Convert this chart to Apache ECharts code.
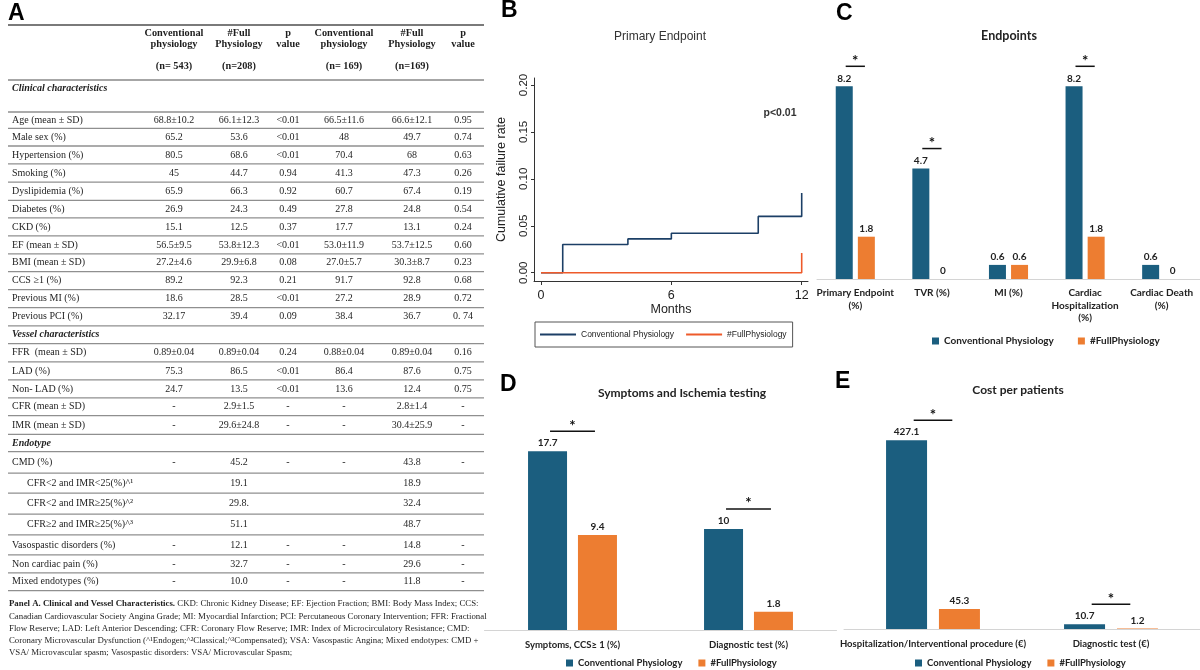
<!DOCTYPE html>
<html><head><meta charset="utf-8">
<script src="https://cdn.jsdelivr.net/npm/echarts@6/dist/echarts.min.js"></script>
<style>
html,body{margin:0;padding:0;background:#fff;width:1200px;height:670px;overflow:hidden}
.layer{position:absolute;left:0;top:0;width:1200px;height:670px}
</style>
</head><body>
<div id="cA" class="layer"></div>
<div id="cB" class="layer"></div>
<div id="cC" class="layer"></div>
<div id="cD" class="layer"></div>
<div id="cE" class="layer"></div>
<script>
// ---------------- DATA ----------------
// Panel A table
const tableHead1 = ['Conventional', '#Full', 'p', 'Conventional', '#Full', 'p'];
const tableHead2 = ['physiology', 'Physiology', 'value', 'physiology', 'Physiology', 'value'];
const tableHeadN = ['(n= 543)', '(n=208)', '', '(n= 169)', '(n=169)', ''];
const tableLabels = ['Clinical characteristics', 'Age (mean \u00b1 SD)', 'Male sex (%)', 'Hypertension (%)', 'Smoking (%)',
  'Dyslipidemia (%)', 'Diabetes (%)', 'CKD (%)', 'EF (mean \u00b1 SD)', 'BMI (mean \u00b1 SD)', 'CCS \u22651 (%)',
  'Previous MI (%)', 'Previous PCI (%)', 'Vessel characteristics', 'FFR  (mean \u00b1 SD)', 'LAD (%)', 'Non- LAD (%)',
  'CFR (mean \u00b1 SD)', 'IMR (mean \u00b1 SD)', 'Endotype', 'CMD (%)', 'CFR<2 and IMR<25(%)^\u00b9',
  'CFR<2 and IMR\u226525(%)^\u00b2', 'CFR\u22652 and IMR\u226525(%)^\u00b3', 'Vasospastic disorders (%)',
  'Non cardiac pain (%)', 'Mixed endotypes (%)'];
const tableKinds = ['sec', 'row', 'row', 'row', 'row', 'row', 'row', 'row', 'row', 'row', 'row', 'row', 'row', 'sec',
  'row', 'row', 'row', 'row', 'row', 'sec', 'row', 'sub', 'sub', 'sub', 'row', 'row', 'row'];
const colConvAll = ['', '68.8\u00b110.2', '65.2', '80.5', '45', '65.9', '26.9', '15.1', '56.5\u00b19.5', '27.2\u00b14.6', '89.2', '18.6', '32.17', '',
  '0.89\u00b10.04', '75.3', '24.7', '-', '-', '', '-', '', '', '', '-', '-', '-'];
const colFullAll = ['', '66.1\u00b112.3', '53.6', '68.6', '44.7', '66.3', '24.3', '12.5', '53.8\u00b112.3', '29.9\u00b16.8', '92.3', '28.5', '39.4', '',
  '0.89\u00b10.04', '86.5', '13.5', '2.9\u00b11.5', '29.6\u00b124.8', '', '45.2', '19.1', '29.8.', '51.1', '12.1', '32.7', '10.0'];
const colPAll = ['', '<0.01', '<0.01', '<0.01', '0.94', '0.92', '0.49', '0.37', '<0.01', '0.08', '0.21', '<0.01', '0.09', '',
  '0.24', '<0.01', '<0.01', '-', '-', '', '-', '', '', '', '-', '-', '-'];
const colConvMatch = ['', '66.5\u00b111.6', '48', '70.4', '41.3', '60.7', '27.8', '17.7', '53.0\u00b111.9', '27.0\u00b15.7', '91.7', '27.2', '38.4', '',
  '0.88\u00b10.04', '86.4', '13.6', '-', '-', '', '-', '', '', '', '-', '-', '-'];
const colFullMatch = ['', '66.6\u00b112.1', '49.7', '68', '47.3', '67.4', '24.8', '13.1', '53.7\u00b112.5', '30.3\u00b18.7', '92.8', '28.9', '36.7', '',
  '0.89\u00b10.04', '87.6', '12.4', '2.8\u00b11.4', '30.4\u00b125.9', '', '43.8', '18.9', '32.4', '48.7', '14.8', '29.6', '11.8'];
const colPMatch = ['', '0.95', '0.74', '0.63', '0.26', '0.19', '0.54', '0.24', '0.60', '0.23', '0.68', '0.72', '0. 74', '',
  '0.16', '0.75', '0.75', '-', '-', '', '-', '', '', '', '-', '-', '-'];
const captionBold = 'Panel A. Clinical and Vessel Characteristics.';
const captionLines = [
  ' CKD: Chronic Kidney Disease; EF: Ejection Fraction; BMI: Body Mass Index; CCS:',
  'Canadian Cardiovascular Society Angina Grade; MI: Myocardial Infarction; PCI: Percutaneous Coronary Intervention; FFR: Fractional',
  'Flow Reserve; LAD: Left Anterior Descending; CFR: Coronary Flow Reserve; IMR: Index of Microcirculatory Resistance; CMD:',
  'Coronary Microvascular Dysfunction (^\u00b9Endogen;^\u00b2Classical;^\u00b3Compensated); VSA: Vasospastic Angina; Mixed endotypes: CMD +',
  'VSA/ Microvascular spasm; Vasospastic disorders: VSA/ Microvascular Spasm;'
];

// Panel B (cumulative failure, step curves)
const kmTitle = 'Primary Endpoint';
const kmXTicks = [0, 6, 12];
const kmYTicks = [0, 0.05, 0.10, 0.15, 0.20];
const kmConvTime = [0, 1, 4, 6, 10, 12];
const kmConvRate = [0, 0.030, 0.036, 0.042, 0.060, 0.085];
const kmFullTime = [0, 12];
const kmFullRate = [0, 0.021];

// Panel C
const endpointCats = ['Primary Endpoint\n(%)', 'TVR (%)', 'MI (%)', 'Cardiac\nHospitalization\n(%)', 'Cardiac Death\n(%)'];
const endpointConv = [8.2, 4.7, 0.6, 8.2, 0.6];
const endpointFull = [1.8, 0, 0.6, 1.8, 0];
const endpointSig = [0, 1, 3];

// Panel D
const symptomCats = ['Symptoms, CCS\u2265 1 (%)', 'Diagnostic test (%)'];
const symptomConv = [17.7, 10];
const symptomFull = [9.4, 1.8];
const symptomSig = [0, 1];

// Panel E
const costCats = ['Hospitalization/Interventional procedure (\u20ac)', 'Diagnostic test (\u20ac)'];
const costConv = [427.1, 10.7];
const costFull = [45.3, 1.2];
const costSig = [0, 1];

const seriesNames = ['Conventional Physiology', '#FullPhysiology'];

// ---------------- STYLE ----------------
const SERIF = '"Liberation Serif", "DejaVu Serif", serif';
const SANS = '"Liberation Sans", Arial, sans-serif';
const BARF = 'Lato, "Open Sans", sans-serif';
const BLUE = '#1b5e7f';
const ORANGE = '#ed7d31';
const KM_BLUE = '#1c3f66';
const KM_ORANGE = '#ee5a2a';
const TXT = '#1e1e1e';

function T(x, y, s, o) {
  const st = Object.assign({
    text: s, x: x, y: y, fill: TXT, fontFamily: SERIF, fontSize: 10,
    align: 'left', verticalAlign: 'middle', textAlign: 'left', textVerticalAlign: 'middle'
  }, o || {});
  if (o && o.align) st.textAlign = o.align;
  if (o && o.verticalAlign) st.textVerticalAlign = o.verticalAlign;
  return { type: 'text', silent: true, style: st };
}
function letter(x, y, s) {
  return T(x, y, s, { fontFamily: SANS, fontWeight: 'bold', fontSize: 23, fill: '#000' });
}

// ---------------- PANEL A (table) ----------------
(function () {
  const els = [];
  const X0 = 8, X1 = 484;
  const colX = [174, 239, 288, 344, 412, 463];
  const rowH = [32, 16.3, 17.7, 17.9, 18.3, 18.1, 17.6, 18, 18, 17.7, 18, 18, 18.3, 17.7, 18.3, 18, 18, 17.7, 18.8,
    17.2, 21.6, 20, 21, 20.7, 20, 18, 17.7];
  function hl(y, w, c) {
    els.push({ type: 'line', silent: true, shape: { x1: X0, y1: y, x2: X1, y2: y }, style: { stroke: c || '#8f8f8f', lineWidth: w || 1.3 } });
  }
  els.push(letter(8, 14, 'A'));
  hl(25, 1.8, '#7a7a7a');
  for (let c = 0; c < 6; c++) {
    els.push(T(colX[c], 33, tableHead1[c], { align: 'center', fontWeight: 'bold', fontSize: 10.3 }));
    els.push(T(colX[c], 44.5, tableHead2[c], { align: 'center', fontWeight: 'bold', fontSize: 10.3 }));
    if (tableHeadN[c]) els.push(T(colX[c], 66, tableHeadN[c], { align: 'center', fontWeight: 'bold', fontSize: 10.3 }));
  }
  hl(80, 1.6, '#888');
  const cols = [colConvAll, colFullAll, colPAll, colConvMatch, colFullMatch, colPMatch];
  let y = 80;
  for (let i = 0; i < tableLabels.length; i++) {
    const h = rowH[i];
    const kind = tableKinds[i];
    const cy = (i === 0) ? y + 8.5 : y + h / 2;
    if (kind === 'sec') {
      els.push(T(12, cy, tableLabels[i], { fontWeight: 'bold', fontStyle: 'italic' }));
    } else {
      els.push(T(kind === 'sub' ? 27 : 12, cy, tableLabels[i], {}));
      for (let c = 0; c < 6; c++) {
        if (cols[c][i]) els.push(T(colX[c], cy, cols[c][i], { align: 'center' }));
      }
    }
    y += h;
    hl(y);
  }
  // caption
  const capY = [604, 616.2, 628.4, 640.6, 652.6];
  const FS = 8.8;
  els.push(T(9, capY[0], '{b|' + captionBold + '}' + captionLines[0], {
    fontSize: FS,
    rich: { b: { fontFamily: SERIF, fontWeight: 'bold', fontSize: FS, fill: TXT } }
  }));
  for (let k = 1; k < captionLines.length; k++) {
    els.push(T(9, capY[k], captionLines[k], { fontSize: FS }));
  }
  const ch = echarts.init(document.getElementById('cA'), null, { renderer: 'canvas' });
  ch.setOption({ animation: false, graphic: { elements: els } });
})();

// ---------------- PANEL B (step curves) ----------------
(function () {
  const ch = echarts.init(document.getElementById('cB'));
  ch.setOption({
    animation: false,
    graphic: { elements: [
      letter(501, 11, 'B'),
      T(660, 37, kmTitle, { fontFamily: SANS, fontSize: 12, align: 'center', fill: '#333' }),
      T(780, 113, 'p<0.01', { fontFamily: SANS, fontSize: 10.5, fontWeight: 'bold', align: 'center', fill: '#333' })
    ] },
    legend: {
      left: 535, top: 322, orient: 'horizontal', icon: 'rect',
      borderColor: '#555', borderWidth: 1, padding: [8, 6, 8, 5],
      itemWidth: 36, itemHeight: 2, itemGap: 12,
      textStyle: { fontFamily: SANS, fontSize: 8.5, color: '#222' },
      data: seriesNames
    },
    grid: { left: 534, top: 78, width: 274, height: 203 },
    xAxis: {
      type: 'value', min: -0.322, max: 12.29,
      name: 'Months', nameLocation: 'middle', nameGap: 20,
      nameTextStyle: { fontFamily: SANS, fontSize: 12.5, color: '#222' },
      axisLine: { show: true, onZero: false, lineStyle: { color: '#333', width: 1 } },
      axisTick: { show: true, length: 4, customValues: kmXTicks, lineStyle: { color: '#333' } },
      axisLabel: { customValues: kmXTicks, fontFamily: SANS, fontSize: 12.5, color: '#222', margin: 8 },
      splitLine: { show: false }
    },
    yAxis: {
      type: 'value', min: -0.00884, max: 0.20746,
      name: 'Cumulative failure rate', nameLocation: 'middle', nameGap: 26, nameRotate: 90,
      nameTextStyle: { fontFamily: SANS, fontSize: 12.5, color: '#222' },
      axisLine: { show: true, onZero: false, lineStyle: { color: '#333', width: 1 } },
      axisTick: { show: true, length: 3, customValues: kmYTicks, lineStyle: { color: '#333' } },
      axisLabel: { customValues: kmYTicks, rotate: 90, fontFamily: SANS, fontSize: 11.5, color: '#222', margin: 4,
        formatter: v => v.toFixed(2) },
      splitLine: { show: false }
    },
    series: [
      { name: seriesNames[0], type: 'line', step: 'end', symbol: 'none',
        lineStyle: { color: KM_BLUE, width: 1.6 }, itemStyle: { color: KM_BLUE },
        data: kmConvTime.map((t, i) => [t, kmConvRate[i]]) },
      { name: seriesNames[1], type: 'line', step: 'end', symbol: 'none',
        lineStyle: { color: KM_ORANGE, width: 1.6 }, itemStyle: { color: KM_ORANGE },
        data: kmFullTime.map((t, i) => [t, kmFullRate[i]]) }
    ]
  });
})();

// ---------------- BAR PANELS ----------------
function sigRenderer(off, lenF) {
  return function (params, api) {
    const p = api.coord([api.value(0), api.value(1)]);
    const half = off * lenF;
    const y = p[1] - 20;
    return { type: 'group', children: [
      { type: 'line', shape: { x1: p[0] - half, y1: y, x2: p[0] + half, y2: y }, style: { stroke: '#111', lineWidth: 1.5 } },
      { type: 'text', style: { text: '*', x: p[0], y: y + 2, align: 'center', verticalAlign: 'bottom',
        textAlign: 'center', textVerticalAlign: 'bottom', fontSize: 15, fontWeight: 'bold', fill: '#111', fontFamily: BARF } }
    ] };
  };
}
function barPanel(id, cfg) {
  const ch = echarts.init(document.getElementById(id));
  const lbl = { show: true, position: 'top', distance: 3, fontFamily: BARF, fontWeight: 'bold', fontSize: cfg.valFs, color: '#222' };
  const gapPx = cfg.barW * cfg.gapRatio;
  ch.setOption({
    animation: false,
    graphic: { elements: [
      letter(cfg.letterX, cfg.letterY, cfg.letter),
      T(cfg.titleX, cfg.titleY, cfg.title, { fontFamily: BARF, fontWeight: 'bold', fontSize: cfg.titleFs, align: 'center', fill: '#222' })
    ] },
    legend: {
      left: cfg.legLeft, top: cfg.legTop, icon: 'rect', itemWidth: 7, itemHeight: 7, itemGap: cfg.legGap,
      textStyle: { fontFamily: BARF, fontWeight: 'bold', fontSize: cfg.legFs, color: '#222' },
      data: seriesNames
    },
    grid: cfg.grid,
    xAxis: {
      type: 'category', data: cfg.cats,
      axisLine: { show: true, lineStyle: { color: '#d4d4d4', width: 1 } },
      axisTick: { show: false },
      axisLabel: { interval: 0, fontFamily: BARF, fontWeight: 'bold', fontSize: cfg.catFs, lineHeight: cfg.catLh,
        color: '#222', margin: cfg.catMargin }
    },
    yAxis: { type: 'value', min: 0, max: cfg.max, show: false, splitLine: { show: false } },
    series: [
      { name: seriesNames[0], type: 'bar', data: cfg.conv, barWidth: cfg.barW, barGap: (cfg.gapRatio * 100) + '%',
        itemStyle: { color: BLUE }, label: lbl },
      { name: seriesNames[1], type: 'bar', data: cfg.full, barWidth: cfg.barW,
        itemStyle: { color: ORANGE }, label: lbl },
      { name: 'sig', type: 'custom', clip: false, silent: true, z: 5,
        renderItem: sigRenderer((cfg.barW + gapPx) / 2, cfg.sigLen),
        data: cfg.sig.map(i => [i, Math.max(cfg.conv[i], cfg.full[i])]) }
    ]
  });
}

barPanel('cC', {
  letter: 'C', letterX: 836, letterY: 14, title: 'Endpoints', titleX: 1009, titleY: 36, titleFs: 12.5,
  cats: endpointCats, conv: endpointConv, full: endpointFull, sig: endpointSig,
  grid: { left: 817, top: 44, width: 385, height: 235 }, max: 10,
  barW: 17, gapRatio: 0.3, sigLen: 0.87, valFs: 10, catFs: 10, catLh: 12.5, catMargin: 8,
  legLeft: 927, legTop: 331, legGap: 24, legFs: 10
});
barPanel('cD', {
  letter: 'D', letterX: 500, letterY: 385, title: 'Symptoms and Ischemia testing', titleX: 682, titleY: 393, titleFs: 12,
  cats: symptomCats, conv: symptomConv, full: symptomFull, sig: symptomSig,
  grid: { left: 484.5, top: 428, width: 352, height: 202 }, max: 20,
  barW: 39, gapRatio: 0.28, sigLen: 0.9, valFs: 10, catFs: 9.5, catLh: 12, catMargin: 9,
  legLeft: 561, legTop: 653, legGap: 16, legFs: 9.5
});
barPanel('cE', {
  letter: 'E', letterX: 835, letterY: 382, title: 'Cost per patients', titleX: 1018, titleY: 390, titleFs: 12,
  cats: costCats, conv: costConv, full: costFull, sig: costSig,
  grid: { left: 844, top: 408, width: 368, height: 221 }, max: 500,
  barW: 41, gapRatio: 0.29, sigLen: 0.73, valFs: 10, catFs: 9.5, catLh: 12, catMargin: 9,
  legLeft: 910, legTop: 653, legGap: 16, legFs: 9.5
});
</script>
</body></html>
